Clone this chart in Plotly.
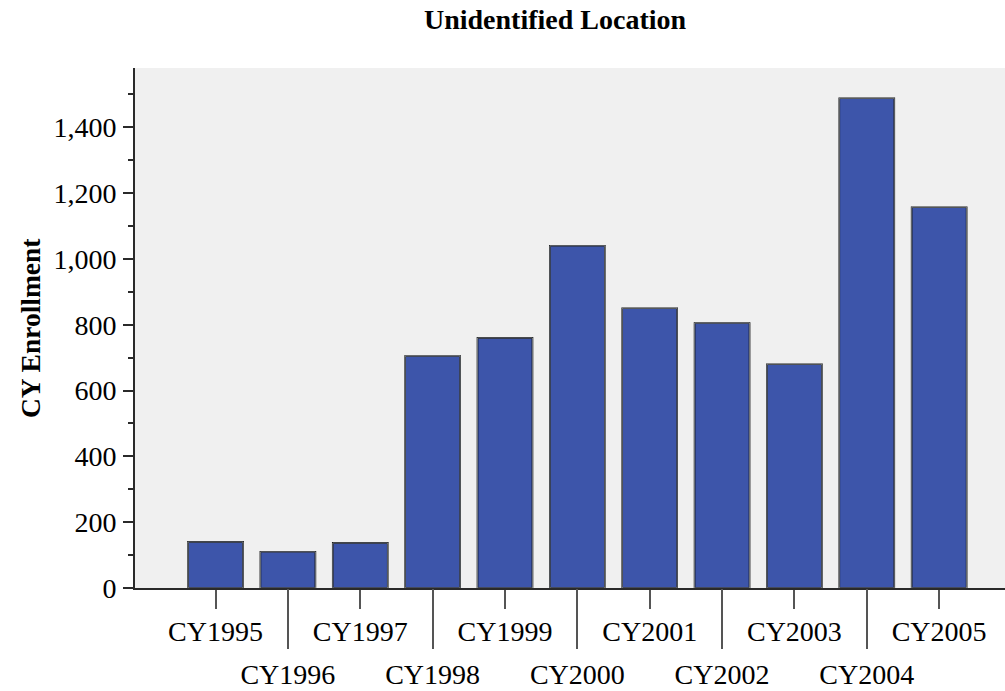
import plotly.graph_objects as go

# data
years = ["CY1995", "CY1996", "CY1997", "CY1998", "CY1999", "CY2000",
         "CY2001", "CY2002", "CY2003", "CY2004", "CY2005"]
enrollment = [140, 110, 137, 705, 760, 1040, 850, 805, 680, 1488, 1157]

y_ticks = [0, 200, 400, 600, 800, 1000, 1200, 1400]
y_tick_text = ["0", "200", "400", "600", "800", "1,000", "1,200", "1,400"]

upper_row = years[0::2]   # labels right under the axis
lower_row = years[1::2]   # labels on the second row

serif = "Liberation Serif, Times New Roman, serif"
axis_col = "#2a2a2a"
x_range = [-1.113, 10.91]
y_range = [0, 1580]

fig = go.Figure()

fig.add_trace(go.Bar(
    x=years, y=enrollment, width=0.76,
    marker=dict(color="#3d55aa", line=dict(color="#000000", width=1.6)),
    showlegend=False,
))
# invisible copy so the second x axis knows the categories
fig.add_trace(go.Bar(
    x=years, y=enrollment, width=0.76, xaxis="x2",
    marker=dict(color="rgba(0,0,0,0)"), hoverinfo="skip", showlegend=False,
))

fig.update_layout(
    width=1005, height=691,
    margin=dict(l=135, r=0, t=68, b=103),
    paper_bgcolor="white", plot_bgcolor="#f0f0f0",
    font=dict(family=serif, size=28, color="black"),
    title=dict(text="<b>Unidentified Location</b>", x=555 / 1005, xanchor="center",
               xref="container", y=1 - 19 / 691, yanchor="middle", yref="container",
               font=dict(family=serif, size=28, color="black")),
    xaxis=dict(
        type="category", categoryorder="array", categoryarray=years,
        range=x_range, showgrid=False, zeroline=False,
        showline=True, linecolor=axis_col, linewidth=2,
        tickmode="array", tickvals=upper_row, ticktext=upper_row,
        ticks="outside", ticklen=19, tickwidth=2, tickcolor="#555555",
        ticklabelstandoff=-2,
    ),
    xaxis2=dict(
        type="category", categoryorder="array", categoryarray=years,
        range=x_range, overlaying="x", anchor="y", side="bottom",
        showgrid=False, zeroline=False, showline=False,
        tickmode="array", tickvals=lower_row, ticktext=lower_row,
        ticks="outside", ticklen=60, tickwidth=2, tickcolor="#555555",
        ticklabelstandoff=1,
    ),
    yaxis=dict(
        range=y_range, showgrid=False, zeroline=False,
        showline=True, linecolor=axis_col, linewidth=2,
        tickmode="array", tickvals=y_ticks, ticktext=y_tick_text,
        ticks="outside", ticklen=10, tickwidth=2, tickcolor=axis_col,
        ticklabelstandoff=1,
        minor=dict(dtick=100, ticks="outside", ticklen=5, tickwidth=1.5,
                   tickcolor=axis_col),
    ),
    # inner half of the crossing ticks
    yaxis2=dict(
        range=y_range, overlaying="y", anchor="x", side="left",
        showgrid=False, zeroline=False, showline=False, showticklabels=False,
        tickmode="array", tickvals=y_ticks,
        ticks="inside", ticklen=10, tickwidth=2, tickcolor=axis_col,
        minor=dict(dtick=100, ticks="inside", ticklen=5, tickwidth=1.5,
                   tickcolor=axis_col),
    ),
    bargap=0.24,
)

fig.add_annotation(
    text="<b>CY Enrollment</b>", textangle=-90, showarrow=False,
    xref="paper", yref="paper", x=(30 - 135) / 870, y=(588 - 328) / 520,
    xanchor="center", yanchor="middle",
    font=dict(family=serif, size=27.5, color="black"),
)

# drop the default page margin so the figure fills the window exactly
fig.write_html(
    "out.html",
    config={"displayModeBar": False},
    post_script="document.body.style.margin='0';document.body.style.overflow='hidden';",
)
